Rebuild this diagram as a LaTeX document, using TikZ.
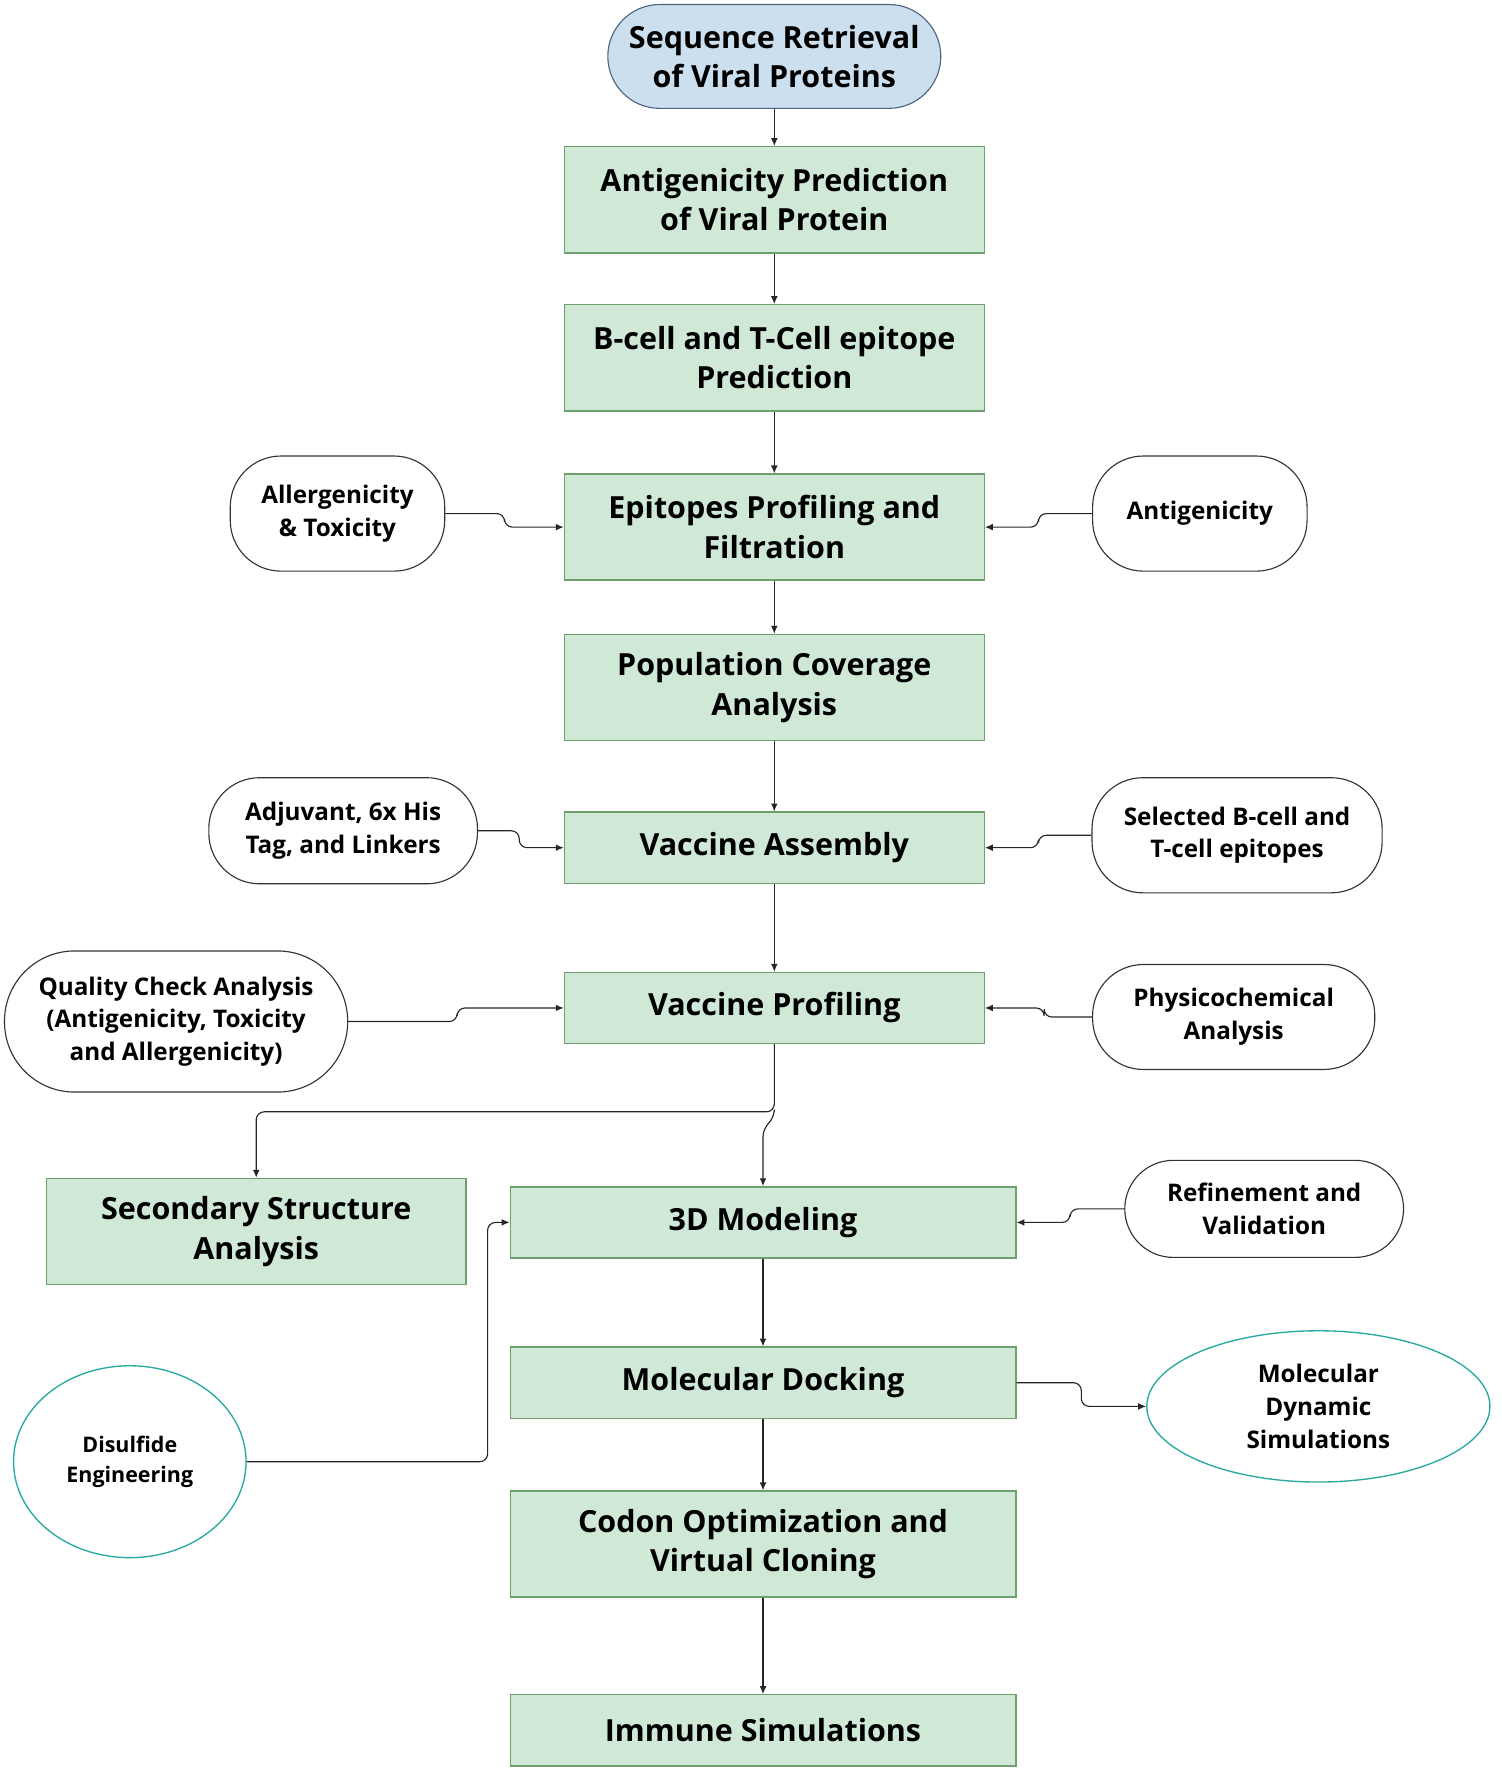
\documentclass[tikz,border=0pt]{standalone}
\usepackage{fontspec}
\setmainfont{Open Sans}
\usetikzlibrary{shapes.geometric,arrows.meta}
\definecolor{bx}{RGB}{208,233,214}
\definecolor{bxd}{RGB}{110,160,110}
\definecolor{bl}{RGB}{204,223,238}
\definecolor{bld}{RGB}{80,100,130}
\definecolor{teal}{RGB}{40,170,160}
\begin{document}
\begin{tikzpicture}[x=1pt,y=-1pt,
 box/.style={draw=bxd,fill=bx,line width=1.2pt,minimum width=#1,align=center,font=\fontsize{27}{35}\selectfont\bfseries,inner sep=0pt},
 pill/.style={draw=black!80,line width=1pt,rounded corners=45pt,align=center,font=\fontsize{21.5}{29}\selectfont\bfseries,inner sep=0pt},
 oval/.style={draw=teal,ellipse,line width=1.2pt,align=center,inner sep=0pt},
 arr/.style={-{Latex[length=7pt,width=6pt]},line width=1pt,black!85,rounded corners=7pt}]
\useasboundingbox (0,0) rectangle (1330,1577);
\node[draw=bld,fill=bl,line width=1pt,rounded corners=46pt,minimum width=295pt,minimum height=92pt,align=center,font=\fontsize{27}{35}\selectfont\bfseries,inner sep=0pt] (seq) at (686,50) {Sequence Retrieval\\of Viral Proteins};
\node[box=372pt,minimum height=94pt] (ant) at (686,177) {Antigenicity Prediction\\of Viral Protein};
\node[box=372pt,minimum height=94pt] (bc) at (686,317) {B-cell and T-Cell epitope\\Prediction};
\node[box=372pt,minimum height=94pt] (epi) at (686,467) {Epitopes Profiling and\\Filtration};
\node[box=372pt,minimum height=94pt] (pop) at (686,609) {Population Coverage\\Analysis};
\node[box=372pt,minimum height=63pt] (vac) at (686,751) {Vaccine Assembly};
\node[box=372pt,minimum height=63pt] (prof) at (686,893) {Vaccine Profiling};
\node[box=372pt,minimum height=94pt] (sec) at (227,1091) {Secondary Structure\\Analysis};
\node[box=448pt,minimum height=63pt] (md3) at (676,1083) {3D Modeling};
\node[box=448pt,minimum height=63pt] (dock) at (676,1225) {Molecular Docking};
\node[box=448pt,minimum height=94pt] (cod) at (676,1368) {Codon Optimization and\\Virtual Cloning};
\node[box=448pt,minimum height=63pt] (imm) at (676,1533) {Immune Simulations};
\node[pill,minimum width=190pt,minimum height=102pt] (all) at (299,455) {Allergenicity\\\& Toxicity};
\node[pill,minimum width=190pt,minimum height=102pt] (agn) at (1063,455) {Antigenicity};
\node[pill,minimum width=238pt,minimum height=94pt] (adj) at (304,736) {Adjuvant, 6x His\\Tag, and Linkers};
\node[pill,minimum width=257pt,minimum height=102pt] (sel) at (1096,740) {Selected B-cell and\\T-cell epitopes};
\node[pill,minimum width=304pt,minimum height=125pt,rounded corners=62pt] (qc) at (156,905) {Quality Check Analysis\\(Antigenicity, Toxicity\\and Allergenicity)};
\node[pill,minimum width=250pt,minimum height=93pt] (phy) at (1093,901) {Physicochemical\\Analysis};
\node[pill,minimum width=247pt,minimum height=86pt,rounded corners=43pt] (ref) at (1120,1071) {Refinement and\\Validation};
\node[oval,minimum width=304pt,minimum height=134pt,font=\fontsize{21.5}{29}\selectfont\bfseries] (mds) at (1168,1246) {Molecular\\Dynamic\\Simulations};
\node[oval,minimum width=206pt,minimum height=170pt,font=\fontsize{19}{27}\selectfont\bfseries] (dis) at (115,1295) {Disulfide\\Engineering};
\draw[arr] (seq) -- (ant);
\draw[arr] (ant) -- (bc);
\draw[arr] (bc) -- (epi);
\draw[arr] (epi) -- (pop);
\draw[arr] (pop) -- (vac);
\draw[arr] (vac) -- (prof);
\draw[arr] (md3) -- (dock);
\draw[arr] (dock) -- (cod);
\draw[arr] (cod) -- (imm);
\draw[arr] (all.east) -- (447,455) |- (epi.west);
\draw[arr] (agn.west) -- (920,455) |- (epi.east);
\draw[arr] (adj.east) -- (460,736) |- (vac.west);
\draw[arr] (sel.west) -- (920,740) |- (vac.east);
\draw[arr] (qc.east) -- (405,905) |- (prof.west);
\draw[arr] (phy.west) -- (925,901) |- (prof.east);
\draw[arr] (ref.west) -- (948,1071) |- (md3.east);
\draw[arr] (prof.south) -- (686,985) -| (sec.north);
\draw[arr] (686,985) -- (686,990) -- (676,1000) -- (md3.north);
\draw[arr] (dis.east) -- (432,1295) |- (md3.west);
\draw[arr] (dock.east) -- (958,1225) |- (mds.west);
\end{tikzpicture}
\end{document}
